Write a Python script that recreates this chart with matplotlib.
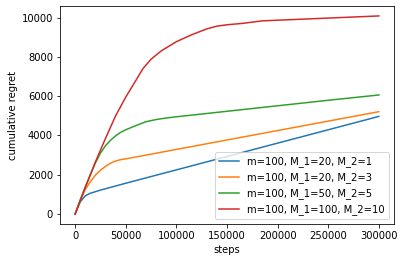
import matplotlib
matplotlib.use("Agg")
import matplotlib.pyplot as plt

labels = ["m=100, M_1=20, M_2=1", "m=100, M_1=20, M_2=3",
          "m=100, M_1=50, M_2=5", "m=100, M_1=100, M_2=10"]

blue_x = [0, 5000, 10000, 15000, 20000, 25000, 30000, 40000, 50000, 75000, 100000, 150000, 200000, 250000, 300000]
blue_y = [0, 620, 930, 1060, 1140, 1220, 1290, 1430, 1570, 1910, 2250, 2930, 3610, 4290, 4970]

orange_x = [0, 5000, 10000, 15000, 20000, 25000, 30000, 35000, 40000, 45000, 50000, 75000, 100000, 150000, 200000, 250000, 300000]
orange_y = [0, 700, 1250, 1650, 1980, 2230, 2430, 2590, 2700, 2770, 2810, 3050, 3290, 3770, 4250, 4730, 5210]

green_x = [0, 5000, 10000, 15000, 20000, 25000, 30000, 35000, 40000, 45000, 50000, 60000, 70000, 80000, 90000, 100000, 150000, 200000, 250000, 300000]
green_y = [0, 720, 1380, 2000, 2600, 3100, 3480, 3760, 3980, 4160, 4290, 4500, 4700, 4810, 4890, 4950, 5230, 5510, 5790, 6060]

red_x = [0, 10000, 20000, 30000, 40000, 50000, 60000, 67000, 75000, 85000, 100000, 115000, 130000, 140000, 150000, 165000, 185000, 300000]
red_y = [0, 1350, 2650, 3850, 5000, 5950, 6800, 7400, 7880, 8300, 8770, 9120, 9420, 9560, 9630, 9700, 9830, 10080]

fig = plt.figure(figsize=(405 / 72, 262 / 72), dpi=72)
ax = fig.add_subplot(111)
fig.subplots_adjust(left=0.148, right=0.973, top=0.977, bottom=0.145)

ax.plot(blue_x, blue_y, color="#1f77b4", label=labels[0])
ax.plot(orange_x, orange_y, color="#ff7f0e", label=labels[1])
ax.plot(green_x, green_y, color="#2ca02c", label=labels[2])
ax.plot(red_x, red_y, color="#d62728", label=labels[3])

ax.set_xlabel("steps")
ax.set_ylabel("cumulative regret")
ax.legend(loc="lower right")

fig.savefig("out.png", dpi=72)
